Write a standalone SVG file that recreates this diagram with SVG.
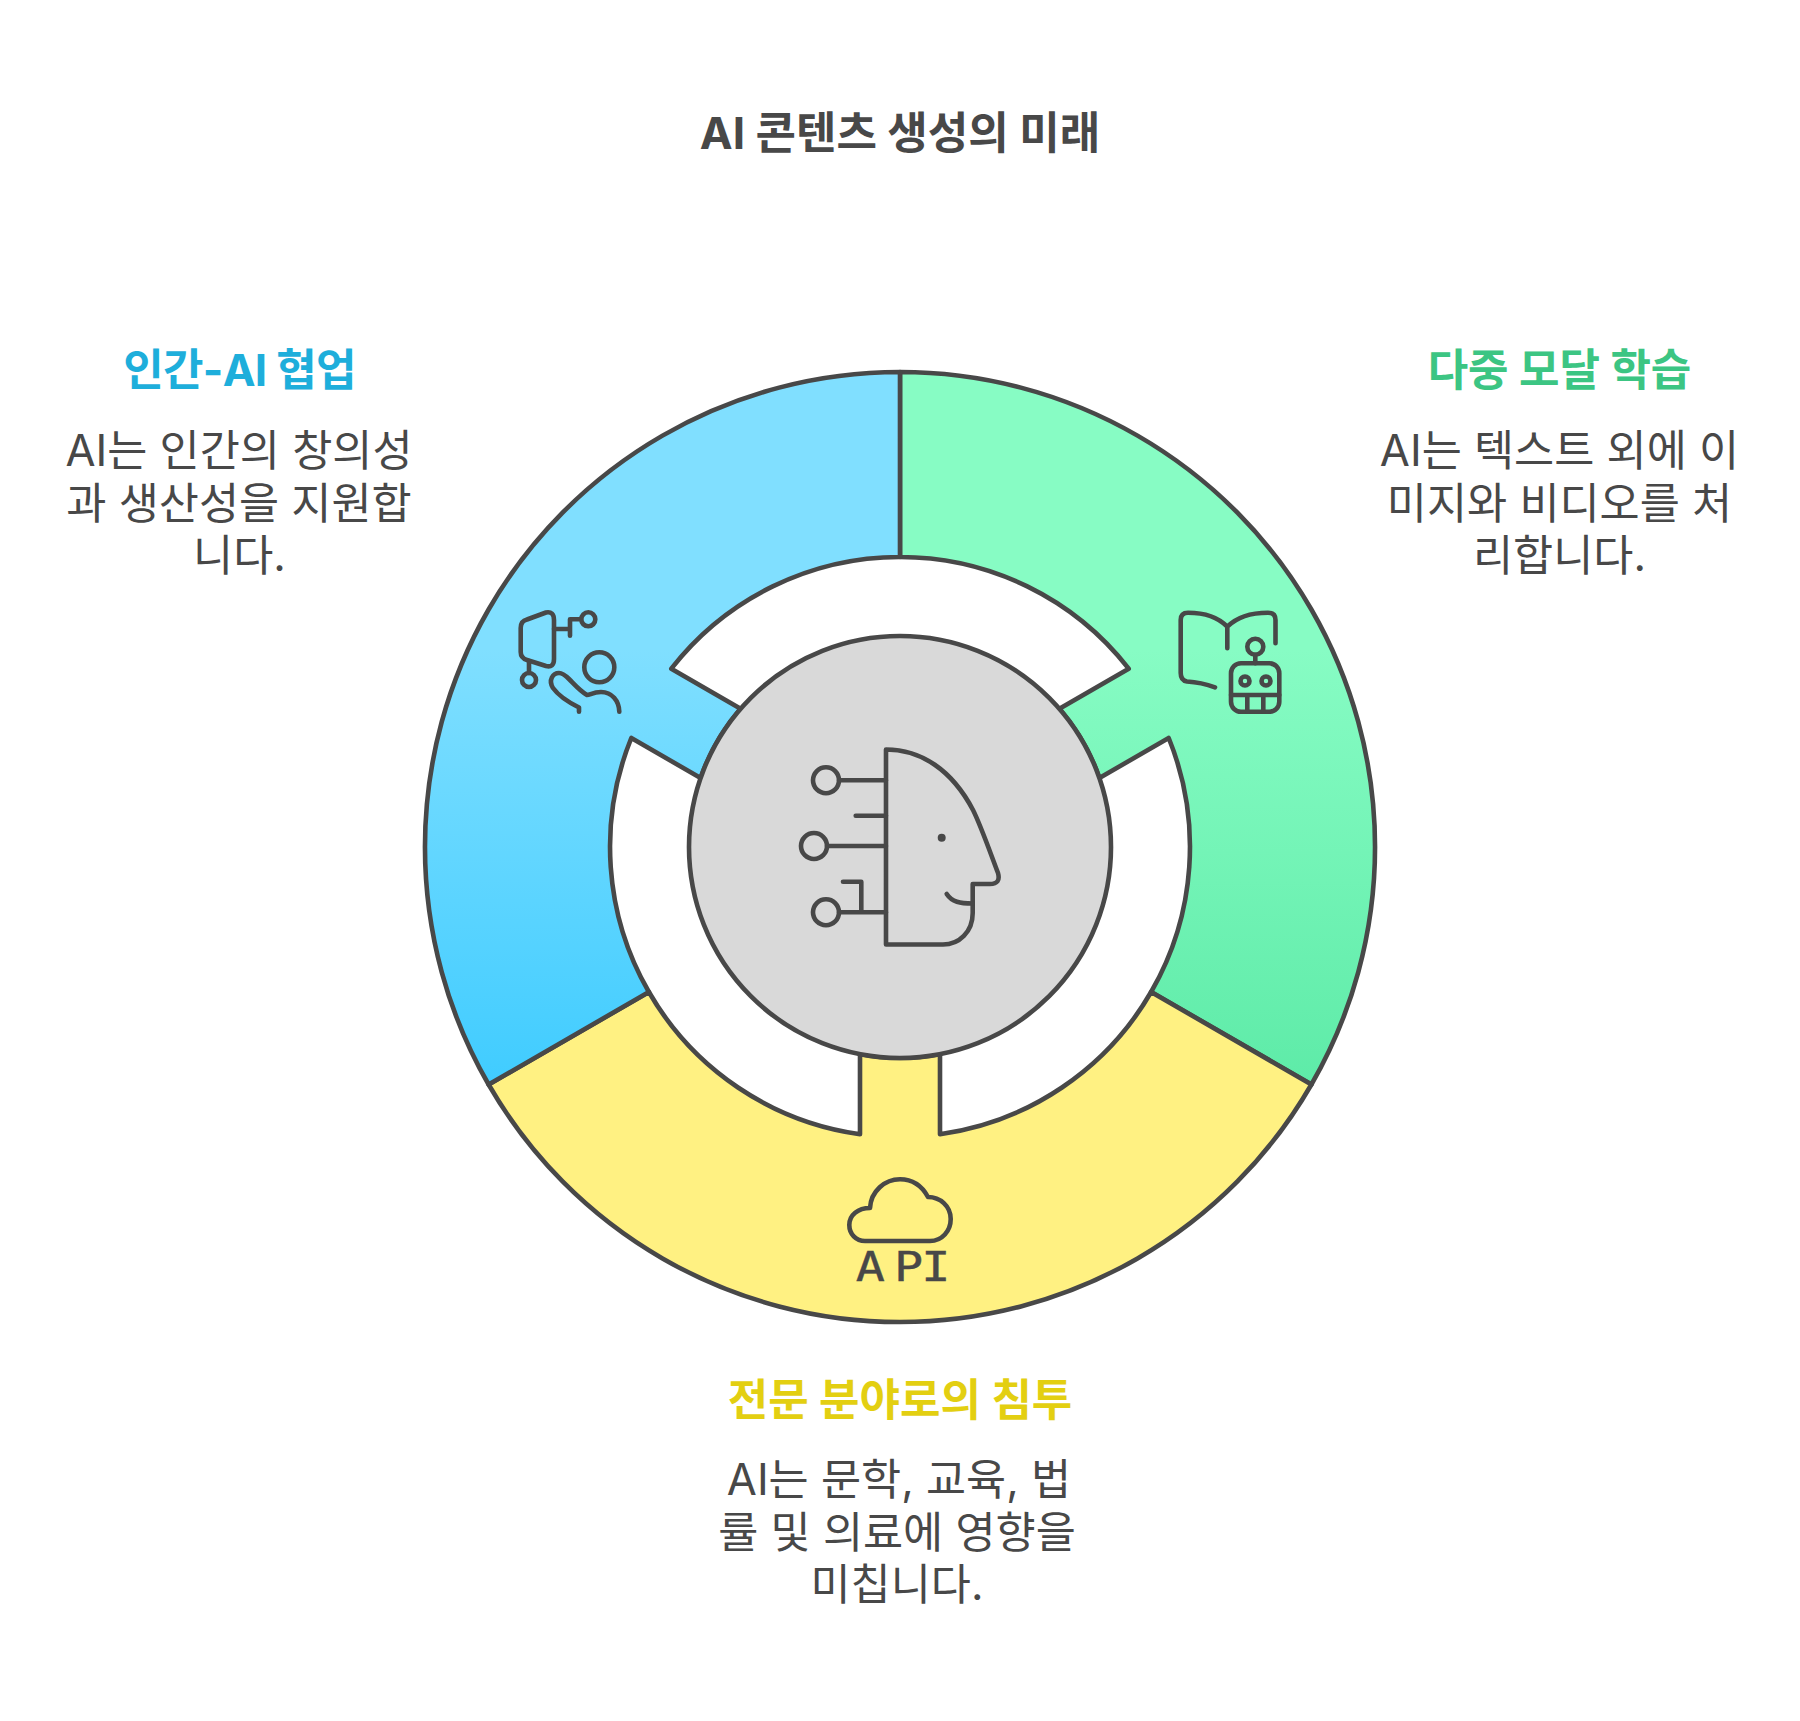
<svg xmlns="http://www.w3.org/2000/svg" width="1800" height="1721" viewBox="0 0 1800 1721">
<style>
text{font-family:"Inter","Noto Sans CJK KR",sans-serif;text-anchor:middle;}
.title{font-size:44px;font-weight:700;fill:#484848;}
.head{font-size:44px;font-weight:700;}
.body{font-size:43.6px;font-weight:400;fill:#484848;}
.seg{stroke:#484848;stroke-width:4.6;stroke-linejoin:round;}
.ic{fill:none;stroke:#484848;stroke-width:4.6;stroke-linecap:round;stroke-linejoin:round;}
.api{font-family:"DejaVu Sans Mono",monospace;font-size:41px;fill:#484848;stroke:#484848;stroke-width:0.4;}
</style>
<defs>
<linearGradient id="gb" gradientUnits="userSpaceOnUse" x1="0" y1="650" x2="0" y2="1085"><stop offset="0" stop-color="#80DFFF"/><stop offset="1" stop-color="#40CCFF"/></linearGradient>
<linearGradient id="gg" gradientUnits="userSpaceOnUse" x1="0" y1="650" x2="0" y2="1085"><stop offset="0" stop-color="#87FCC4"/><stop offset="1" stop-color="#5EEBA8"/></linearGradient>
</defs>
<rect width="1800" height="1721" fill="#fff"/>
<text class="title" x="900" y="149">AI 콘텐츠 생성의 미래</text>
<g id="node-multimodal">
<path class="seg" fill="url(#gg)" transform="translate(0,-1)" d="M900 373 A475 475 0 0 1 1311.4 1085.5 L1151.1 993 A290 290 0 0 0 1168.7 739 L1099.4 779 A211 211 0 0 0 1059.4 709.8 L1128.7 669.7 A290 290 0 0 0 900 558 Z"/>
<path class="ic" d="M1215 687.3 C1206 684 1196 682 1187 681.5 Q1180.7 680.5 1180.7 673 V620 Q1180.7 612.7 1188 612.7 C1201 612.7 1217 616 1227.3 626.7 V648.3 M1227.3 626.7 C1238 616 1254 612.7 1268 612.7 Q1275.5 612.7 1275.5 620 V643.3"/>
<rect class="ic" x="1231" y="663.3" width="48.3" height="48.4" rx="10"/>
<path class="ic" d="M1231 695 H1279.3 M1247.3 695 V711.7 M1263.3 695 V711.7 M1255.3 654.7 V663.3"/>
<circle class="ic" cx="1255.3" cy="646.7" r="8"/>
<circle class="ic" cx="1245" cy="681" r="4.5"/>
<circle class="ic" cx="1266" cy="681" r="4.5"/>
<text class="head" x="1559.5" y="386" fill="#3CC583">다중 모달 학습</text>
<text class="body" x="1559.5" y="466">AI는 텍스트 외에 이</text>
<text class="body" x="1559.5" y="518.5">미지와 비디오를 처</text>
<text class="body" x="1559.5" y="571">리합니다.</text>
</g>
<g id="node-specialized">
<path class="seg" fill="#FFF182" transform="translate(0,-1)" d="M488.6 1085.5 A475 475 0 0 0 1311.4 1085.5 L1151.1 993 A290 290 0 0 1 940 1135.2 V1055.2 A211 211 0 0 1 860 1055.2 V1135.2 A290 290 0 0 1 648.9 993 Z"/>
<path class="ic" d="M865 1241 H930 C942 1241 950.7 1231 950.7 1219 C950.7 1206 940 1197 928 1197 C922 1186 912 1179.3 900 1179.3 C885 1179.3 871 1191 870 1208 C858 1208 849.3 1215 849.3 1225 C849.3 1234 856 1241 865 1241 Z"/>
<text class="api" transform="translate(0,1280.5) scale(1.18,1)" x="737.5 770 793" y="0">API</text>
<text class="head" x="900" y="1416" fill="#E3CF11">전문 분야로의 침투</text>
<text class="body" x="899" y="1495">AI는 문학, 교육, 법</text>
<text class="body" x="897" y="1547.5">률 및 의료에 영향을</text>
<text class="body" x="897" y="1600">미칩니다.</text>
</g>
<g id="node-collaboration">
<path class="seg" fill="url(#gb)" transform="translate(0,-1)" d="M900 373 A475 475 0 0 0 488.6 1085.5 L648.9 993 A290 290 0 0 1 631.3 739 L700.6 779 A211 211 0 0 1 740.6 709.8 L671.3 669.7 A290 290 0 0 1 900 558 Z"/>
<path class="ic" d="M527 619.5 L546 612.5 Q554 611 554 620 V659 Q554 668 546 666 L527 660 Q520.7 658 520.7 652 V628 Q520.7 621 527 619.5 Z"/>
<path class="ic" d="M554 629 H570 M570 635.7 V619.3 H581 M529 661 V673"/>
<circle class="ic" cx="588.3" cy="619.3" r="7"/>
<circle class="ic" cx="529" cy="680" r="7"/>
<circle class="ic" cx="599.3" cy="667.3" r="15"/>
<path class="ic" d="M579 711.7 V707.5 C570 703 558 695 553 688 C548 680 553 673 559 673 C563 673 566 676 569 679 C575 685 580 691 587 695 C590 695 593 692 601 692 C612 692 619 701 619.3 711.7"/>
<text class="head" x="239.5" y="386" fill="#1EAEDB" letter-spacing="-0.7">인간-AI 협업</text>
<text class="body" x="239" y="466">AI는 인간의 창의성</text>
<text class="body" x="239" y="518.5">과 생산성을 지원합</text>
<text class="body" x="239.5" y="571">니다.</text>
</g>
<g id="node-center">
<circle class="seg" cx="900" cy="847" r="211" fill="#D9D9D9"/>
<path class="ic" d="M886 749.5 C921 749.5 952 770 973 810 C981 826 990 852 998 873 Q1001 884 990 884 H972.7 V913 C972.7 932 959 944.5 943 944.5 H886 Z"/>
<path class="ic" d="M839 780.3 H886 M855.7 815.7 H886 M827 846 H886 M839 912.3 H886 M843 881.7 H861.3 V912 M946.7 894 C952 902 960 903.5 972.7 903.5"/>
<circle class="ic" cx="826" cy="780.3" r="13"/>
<circle class="ic" cx="814" cy="846" r="13"/>
<circle class="ic" cx="826" cy="912.3" r="13"/>
<circle cx="941.7" cy="837.7" r="4" fill="#484848"/>
</g>
</svg>
